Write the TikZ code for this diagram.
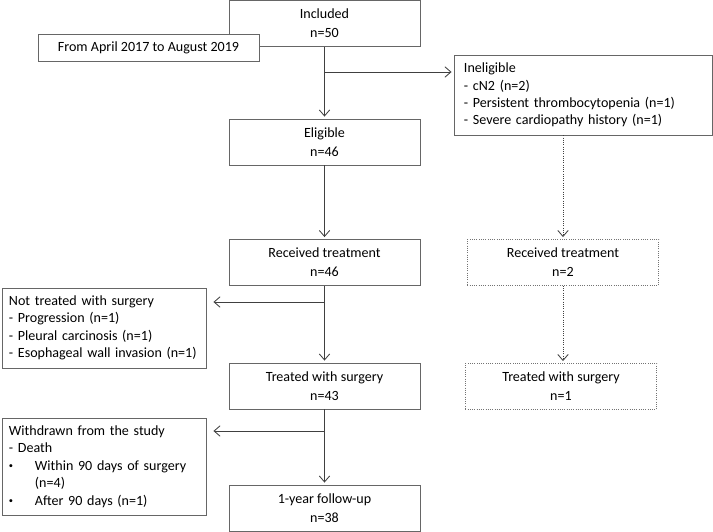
\documentclass[tikz,border=0pt]{standalone}
\usepackage{fontspec}
\setmainfont{Carlito}
\usetikzlibrary{arrows.meta}
\tikzset{
  box/.style={draw=black!60, line width=0.6pt, fill=white, minimum width=4.775cm, minimum height=1.15cm, align=center, inner sep=0pt, font=\fontsize{10}{13.5}\selectfont},
  dotbox/.style={box, densely dotted, draw=black!55},
  listbox/.style={draw=black!60, line width=0.6pt, fill=white, align=left, inner ysep=0pt, font=\fontsize{10}{12.4}\selectfont},
  line/.style={draw=black!75, line width=0.6pt},
  arr/.style={line, -{Straight Barb[length=1.5mm,width=2.6mm]}, shorten >=0.05cm},
}
\newcommand{\bul}{\makebox[0.65cm][l]{\raisebox{0.12em}{\fontsize{6}{6}\selectfont\textbullet}}}
\begin{document}
\begin{tikzpicture}[x=0.025cm, y=-0.025cm]
                \useasboundingbox (0,0) rectangle (713,532);
                \node[box] (incl) at (324.5,23.5) {Included\\n=50};
                \node[box, minimum width=5.525cm, minimum height=0.675cm] (period) at (148.5,47.5) {From April 2017 to August 2019};
                \node[box] (elig) at (324.5,142) {Eligible\\n=46};
                \node[box] (rec) at (324.5,262.5) {Received treatment\\n=46};
                \node[box] (surg) at (324.5,386) {Treated with surgery\\n=43};
                \node[box] (fup) at (324.5,508) {1-year follow-up\\n=38};
                \node[listbox, text width=5.95cm, inner xsep=0.25cm, minimum height=2cm] (inel) at (583,95) {Ineligible\\- cN2 (n=2)\\- Persistent thrombocytopenia (n=1)\\- Severe cardiopathy history (n=1)};
                \node[dotbox] (rec2) at (563,262.5) {Received treatment\\n=2};
                \node[dotbox] (surg2) at (561,386.5) {Treated with surgery\\n=1};
                \node[listbox, text width=4.75cm, inner xsep=0.175cm, minimum height=2cm] (nosurg) at (104,328) {Not treated with surgery\\- Progression (n=1)\\- Pleural carcinosis (n=1)\\- Esophageal wall invasion (n=1)};
                \node[listbox, text width=4.75cm, inner xsep=0.175cm, minimum height=2.425cm] (withd) at (104,466.5) {Withdrawn from the study\\- Death\\\bul Within 90 days of surgery\\\hspace*{0.65cm}(n=4)\\\bul After 90 days (n=1)};
                \coordinate (b1) at (324.5,72);
                \coordinate (b2) at (324.5,302);
                \coordinate (b3) at (324.5,431);
                \draw[arr] (incl) -- (elig);
                \draw[arr] (b1) -- (b1 -| inel.west);
                \draw[arr] (elig) -- (rec);
                \draw[arr] (rec) -- (surg);
                \draw[arr, shorten >=0.175cm] (b2) -- (b2 -| nosurg.east);
                \draw[arr] (surg) -- (fup);
                \draw[arr, shorten >=0.175cm] (b3) -- (b3 -| withd.east);
                \draw[arr, densely dotted] (rec2.north |- inel.south) -- (rec2.north);
                \draw[arr, densely dotted] (rec2.south) -- (rec2.south |- surg2.north);
        \end{tikzpicture}
\end{document}
